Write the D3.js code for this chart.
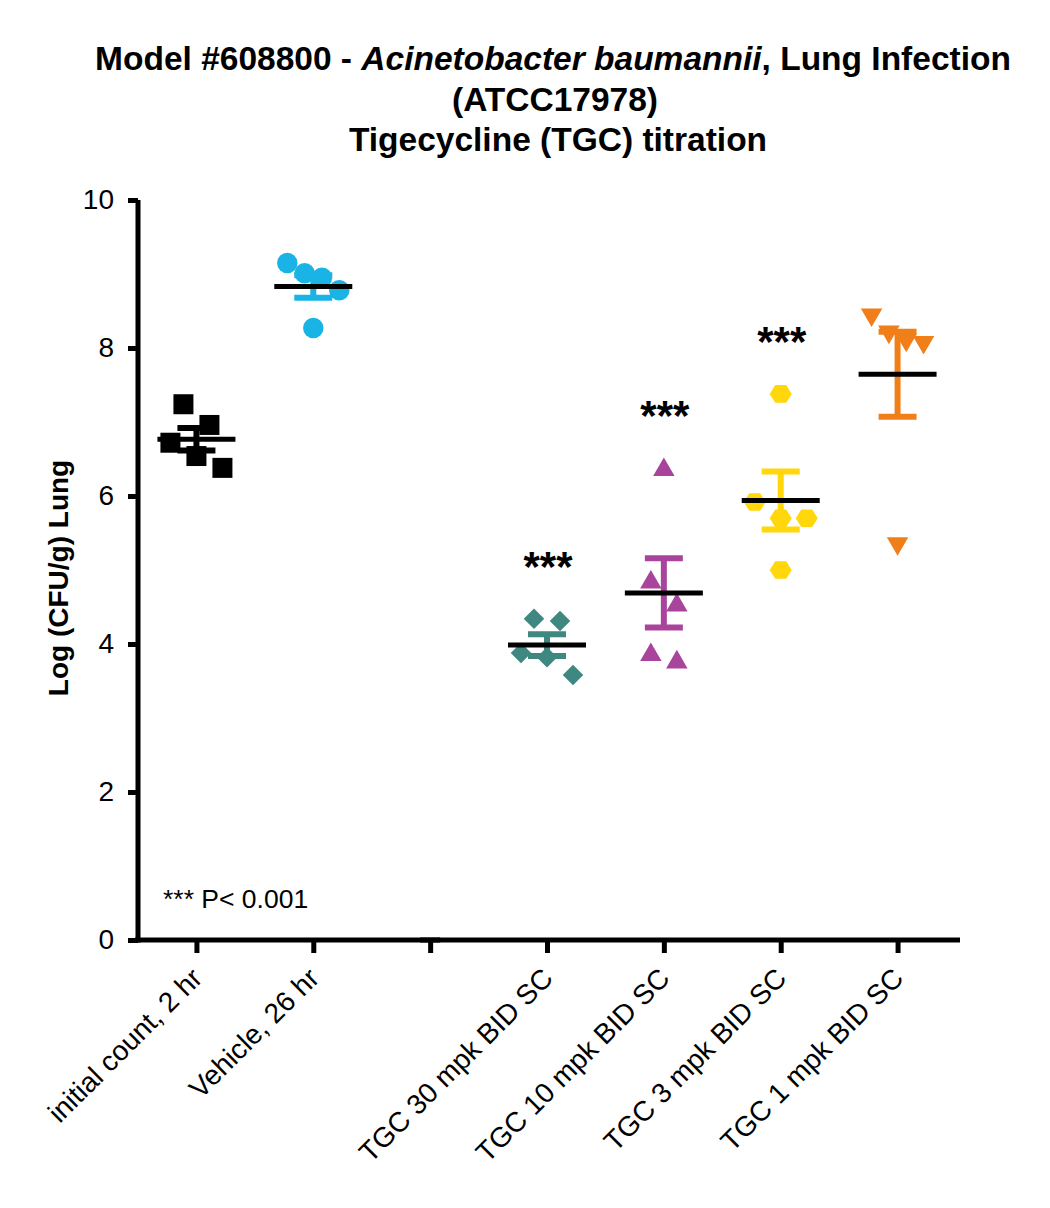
<!DOCTYPE html>
<html lang="en">
<head>
    <meta charset="UTF-8">
    <title>Tigecycline titration</title>
    <style>
        body { margin: 0; background: #fff; }
        svg { display: block; }
        svg text { font-family: Arial, "Liberation Sans", Helvetica, sans-serif; }
    </style>
</head>
<body>
    <script src="https://d3js.org/d3.v7.min.js"></script>
    <script>
        // groups, left to right (third column is empty in the original)
        const categories = ['initial count, 2 hr', 'Vehicle, 26 hr', '', 'TGC 30 mpk BID SC',
                            'TGC 10 mpk BID SC', 'TGC 3 mpk BID SC', 'TGC 1 mpk BID SC'];
        // Log (CFU/g) lung, one value per animal
        const initialCount = [7.24, 6.96, 6.72, 6.54, 6.38];
        const vehicle = [9.15, 9.01, 8.95, 8.78, 8.27];
        const emptyGroup = [];
        const tgc30 = [4.34, 4.31, 3.88, 3.82, 3.58];
        const tgc10 = [6.38, 4.86, 4.55, 3.88, 3.78];
        const tgc3 = [7.38, 5.92, 5.70, 5.70, 5.00];
        const tgc1 = [8.45, 8.22, 8.11, 8.08, 5.36];
        const seriesValues = [initialCount, vehicle, emptyGroup, tgc30, tgc10, tgc3, tgc1];
        const significance = ['', '', '', '***', '***', '***', ''];
        const yTicks = [0, 2, 4, 6, 8, 10];

        const colors = ['#000000', '#1ab3e6', '#000000', '#3f8781', '#a9449d', '#ffd70a', '#f07f1a'];
        const shapes = ['square', 'circle', 'none', 'diamond', 'triangle', 'hexagon', 'down'];

        const W = 1050, H = 1208;
        const plotLeft = 138, plotRight = 956, plotTop = 200, plotBottom = 940;
        const FONT = 'Arial, "Liberation Sans", Helvetica, sans-serif';

        const svg = d3.select('body').append('svg').attr('width', W).attr('height', H)
            .attr('font-family', FONT);

        const x = d3.scalePoint().domain(d3.range(categories.length)).range([plotLeft, plotRight]).padding(0.5);
        const y = d3.scaleLinear().domain([0, 10]).range([plotBottom, plotTop]);

        // title
        const title = svg.append('text').attr('text-anchor', 'middle')
            .attr('font-weight', 'bold').attr('font-size', 33.5);
        const l1 = title.append('tspan').attr('x', 553).attr('y', 70);
        l1.append('tspan').text('Model #608800 - ');
        l1.append('tspan').attr('font-style', 'italic').text('Acinetobacter baumannii');
        l1.append('tspan').text(', Lung Infection');
        title.append('tspan').attr('x', 555).attr('y', 111).text('(ATCC17978)');
        title.append('tspan').attr('x', 558).attr('y', 151).text('Tigecycline (TGC) titration');

        // y axis label
        svg.append('text')
            .attr('transform', 'translate(68,578) rotate(-90)')
            .attr('text-anchor', 'middle').attr('font-weight', 'bold').attr('font-size', 28)
            .text('Log (CFU/g) Lung');

        // axes
        const yAxis = svg.append('g').attr('transform', `translate(${plotLeft},0)`)
            .call(d3.axisLeft(y).tickValues(yTicks).tickSize(10).tickSizeOuter(0).tickPadding(14));
        const xAxis = svg.append('g').attr('transform', `translate(0,${plotBottom})`)
            .call(d3.axisBottom(x).tickSize(13).tickSizeOuter(0).tickFormat(i => categories[i]));
        [yAxis, xAxis].forEach(g => {
            g.attr('font-family', FONT);
            g.select('.domain').attr('stroke-width', 5);
            g.selectAll('.tick line').attr('stroke-width', 5);
        });
        xAxis.select('.domain').attr('d', `M${plotLeft - 3},0H${plotRight + 4}`);
        yAxis.select('.domain').attr('d', `M0,${plotTop}V${plotBottom + 2.5}`);
        yAxis.selectAll('.tick text').attr('font-size', 28).attr('fill', '#000');
        xAxis.selectAll('.tick text')
            .attr('font-size', 28).attr('fill', '#000')
            .attr('text-anchor', 'end')
            .attr('transform', 'translate(0,33) rotate(-45)')
            .attr('dy', '0.35em').attr('y', 0);

        // spread points of one group like a column scatter: values close together share a row
        function spread(values) {
            const idx = d3.range(values.length).sort((a, b) => values[b] - values[a]);
            const out = new Array(values.length);
            let i = 0;
            while (i < idx.length) {
                const anchor = y(values[idx[i]]);
                let j = i;
                while (j < idx.length && y(values[idx[j]]) - anchor < 30) j++;
                const n = j - i;
                const step = n > 1 ? Math.min(26, 52 / (n - 1)) : 0;
                for (let k = 0; k < n; k++) out[idx[i + k]] = (k - (n - 1) / 2) * step;
                i = j;
            }
            return out;
        }

        const symbolOf = {
            square: d3.symbol(d3.symbolSquare, 400),
            circle: d3.symbol(d3.symbolCircle, 330),
            diamond: d3.symbol(d3.symbolSquare, 210),
            triangle: d3.symbol(d3.symbolTriangle, 200),
            down: d3.symbol(d3.symbolTriangle, 200)
        };
        function hexagon(r) {
            return d3.line()(d3.range(6).map(k => {
                const a = Math.PI / 3 * k;
                return [r * Math.cos(a), r * Math.sin(a) * 0.92];
            })) + 'Z';
        }

        const groups = svg.append('g').selectAll('g')
            .data(seriesValues.map((v, i) => ({ i, v })))
            .join('g');

        groups.each(function (d) {
            const g = d3.select(this);
            const cx = x(d.i);
            if (!d.v.length) {
                g.append('line').attr('x1', cx - 10).attr('x2', cx + 10)
                    .attr('y1', y(0)).attr('y2', y(0)).attr('stroke', '#000').attr('stroke-width', 5);
                return;
            }
            const offs = spread(d.v);
            g.selectAll('path.pt').data(d.v).join('path').attr('class', 'pt')
                .attr('fill', colors[d.i])
                .attr('d', shapes[d.i] === 'hexagon' ? hexagon(11) : symbolOf[shapes[d.i]]())
                .attr('transform', (v, k) => {
                    const t = `translate(${cx + offs[k]},${y(v)})`;
                    if (shapes[d.i] === 'diamond') return t + ' rotate(45)';
                    if (shapes[d.i] === 'down') return t + ' rotate(180)';
                    if (shapes[d.i] === 'triangle') return t + ' translate(0,2)';
                    return t;
                });

            const m = d3.mean(d.v);
            const sem = d3.deviation(d.v) / Math.sqrt(d.v.length);
            const c = colors[d.i];
            g.append('line').attr('x1', cx).attr('x2', cx).attr('y1', y(m + sem)).attr('y2', y(m - sem))
                .attr('stroke', c).attr('stroke-width', 6);
            [m + sem, m - sem].forEach(v => {
                g.append('line').attr('x1', cx - 19).attr('x2', cx + 19).attr('y1', y(v)).attr('y2', y(v))
                    .attr('stroke', c).attr('stroke-width', 6);
            });
            g.append('line').attr('x1', cx - 39).attr('x2', cx + 39).attr('y1', y(m)).attr('y2', y(m))
                .attr('stroke', '#000').attr('stroke-width', 5);

            if (significance[d.i]) {
                g.append('text').attr('x', cx + 1).attr('y', y(d3.max(d.v)) - 38)
                    .attr('text-anchor', 'middle').attr('font-weight', 'bold').attr('font-size', 42)
                    .text(significance[d.i]);
            }
        });

        svg.append('text').attr('x', 163).attr('y', 908).attr('font-size', 26.5)
            .text('*** P< 0.001');
    </script>
</body>
</html>
